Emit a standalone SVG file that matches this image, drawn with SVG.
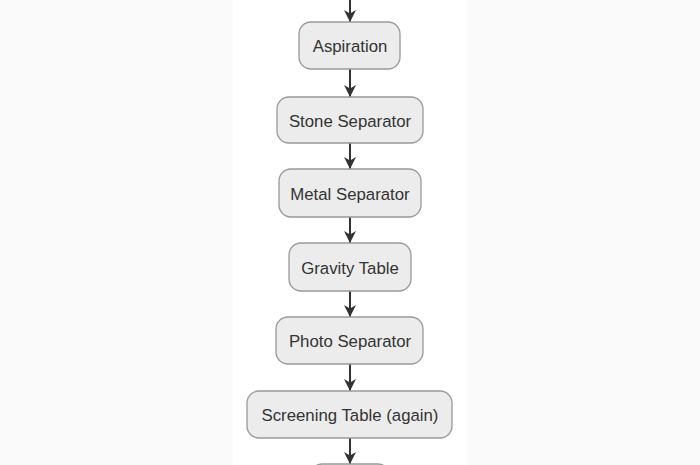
<svg xmlns="http://www.w3.org/2000/svg" width="700" height="465" viewBox="0 0 700 465">
<defs>
<style>
.node rect{fill:#ececec;stroke:#999;stroke-width:1.3}
.node text{font-family:"Liberation Sans",Arial,sans-serif;font-size:16.8px;fill:#333;text-anchor:middle}
.edge{stroke:#333;stroke-width:2;fill:none;marker-end:url(#arr)}
</style>
<marker id="arr" viewBox="0 0 10 10" refX="10" refY="5" markerWidth="13" markerHeight="12" orient="auto" markerUnits="userSpaceOnUse">
<path d="M0,0 L10,5 L0,10 L3,5 z" fill="#333"/>
</marker>
</defs>
<rect x="0" y="0" width="700" height="465" fill="#fafafa"/>
<rect x="233" y="0" width="234" height="465" fill="#fff"/>
<g id="connectors">
<line class="edge" x1="350" y1="0" x2="350" y2="22"/>
<line class="edge" x1="350" y1="69" x2="350" y2="97"/>
<line class="edge" x1="350" y1="143" x2="350" y2="169"/>
<line class="edge" x1="350" y1="217" x2="350" y2="243"/>
<line class="edge" x1="350" y1="291" x2="350" y2="317"/>
<line class="edge" x1="350" y1="364" x2="350" y2="391"/>
<line class="edge" x1="350" y1="438" x2="350" y2="464"/>
</g>
<g id="aspiration" class="node"><rect x="299" y="22" width="101" height="47" rx="12"/><text x="350" y="52">Aspiration</text></g>
<g id="stone" class="node"><rect x="277" y="97" width="146" height="46" rx="12"/><text x="350" y="127">Stone Separator</text></g>
<g id="metal" class="node"><rect x="279" y="169" width="142" height="48" rx="12"/><text x="350" y="200">Metal Separator</text></g>
<g id="gravity" class="node"><rect x="289" y="243" width="122" height="48" rx="12"/><text x="350" y="274">Gravity Table</text></g>
<g id="photo" class="node"><rect x="276" y="317" width="147" height="47" rx="12"/><text x="350" y="347">Photo Separator</text></g>
<g id="screening" class="node"><rect x="247" y="391" width="205" height="47" rx="12"/><text x="350" y="421">Screening Table (again)</text></g>
<g id="next" class="node"><rect x="310" y="464" width="80" height="40" rx="12"/></g>
</svg>
